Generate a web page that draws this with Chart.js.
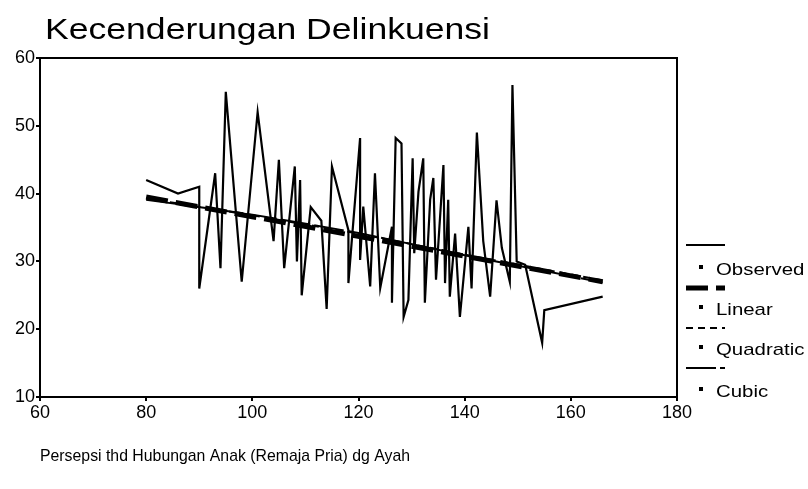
<!DOCTYPE html>
<html>
<head>
<meta charset="utf-8">
<script src="https://cdn.jsdelivr.net/npm/chart.js@4/dist/chart.umd.min.js"></script>
<style>
  html, body { margin: 0; padding: 0; background: #fff; }
</style>
</head>
<body>
<canvas id="trendChart" width="808" height="489"></canvas>
<script>
const obsX = [80, 86, 90, 90, 93, 94, 95, 98, 101, 104, 105, 106, 108, 108.4, 109, 109.3, 111, 113, 114, 115,
    118.1, 118.1, 118.7, 120.3, 120.3, 120.9, 122.2, 123.1, 124.1, 126.3, 126.3, 127, 128.1, 128.5, 129.4,
    130.2, 130.5, 131.3, 132.2, 132.5, 133.5, 134.1, 134.6, 136, 136.3, 136.9, 137.2, 138.2, 139.1, 140.7,
    141.3, 142.3, 143.5, 144.8, 146, 147, 148.5, 149, 149.8, 151.4, 154.6, 155, 166];
const obsY = [42, 40, 41, 26, 43, 29, 55, 27, 52, 33, 45, 29, 44, 30, 42, 25, 38, 36, 23, 44,
    34.6, 26.8, 32.7, 48.2, 30.2, 38.1, 26.3, 43, 26.1, 35.1, 23.9, 48.2, 47.4, 21.8, 24.3,
    45.2, 31.2, 40.3, 45.2, 23.9, 39.1, 42.3, 27.3, 44.2, 26.8, 39.1, 24.8, 34.1, 21.8, 35.1,
    26, 49, 33, 24.8, 39, 32, 27, 56, 30, 29.5, 18, 22.8, 24.8];

// Fitted curves
const linX = [80, 166];
const linY = [39.5, 27.0];
const quadX = [80, 100, 120, 140, 166];
const quadY = [39.3, 36.8, 34.1, 31.0, 27.2];
const cubX = [80, 100, 120, 140, 166];
const cubY = [39.1, 36.9, 34.2, 30.9, 26.9];

const xTicks = [60, 80, 100, 120, 140, 160, 180];
const yTicks = [10, 20, 30, 40, 50, 60];

const FONT = '"Liberation Sans", Arial, sans-serif';

function toPoints(xs, ys) {
    return xs.map((x, i) => ({ x: x, y: ys[i] }));
}

// Title, axis title, frame and legend
const decorPlugin = {
    id: 'decor',
    afterDraw(chart) {
        const ctx = chart.ctx;
        const area = chart.chartArea;
        ctx.save();

        ctx.strokeStyle = '#000';
        ctx.lineWidth = 2;
        ctx.strokeRect(area.left, area.top, area.right - area.left, area.bottom - area.top);

        ctx.fillStyle = '#000';
        ctx.textBaseline = 'alphabetic';
        drawFitted(ctx, 'Kecenderungan Delinkuensi', 45, 39, '30px ' + FONT, 445);
        drawFitted(ctx, 'Persepsi thd Hubungan Anak (Remaja Pria) dg Ayah', 40, 461, '17px ' + FONT, 370);

        // legend
        const items = [
            { label: 'Observed', width: 2, dash: [], lineY: 245, textY: 275 },
            { label: 'Linear', width: 5, dash: [22, 8], lineY: 288, textY: 315 },
            { label: 'Quadratic', width: 2, dash: [7, 5], lineY: 328, textY: 355 },
            { label: 'Cubic', width: 2, dash: [30, 4], lineY: 368, textY: 397 }
        ];
        ctx.font = '17px ' + FONT;
        items.forEach(item => {
            ctx.beginPath();
            ctx.setLineDash(item.dash);
            ctx.lineWidth = item.width;
            ctx.moveTo(686, item.lineY);
            ctx.lineTo(725, item.lineY);
            ctx.stroke();
            ctx.setLineDash([]);
            ctx.fillRect(699, item.textY - 10, 4, 4);
            const w = ctx.measureText(item.label).width;
            drawFitted(ctx, item.label, 716, item.textY, '17px ' + FONT, w * 1.2);
        });
        ctx.restore();
    }
};

function drawFitted(ctx, text, x, y, font, width) {
    ctx.font = font;
    const w = ctx.measureText(text).width;
    ctx.save();
    ctx.translate(x, y);
    ctx.scale(width / w, 1);
    ctx.fillText(text, 0, 0);
    ctx.restore();
}

function axisOptions(min, max, ticks) {
    return {
        type: 'linear',
        min: min,
        max: max,
        afterBuildTicks(scale) {
            scale.ticks = ticks.map(v => ({ value: v }));
        },
        ticks: {
            color: '#000',
            font: { family: FONT, size: 18 },
            padding: 1,
            maxRotation: 0,
            autoSkip: false
        },
        grid: {
            display: true,
            drawOnChartArea: false,
            drawTicks: true,
            tickLength: 4,
            color: '#000',
            lineWidth: 2
        },
        border: { display: true, color: '#000', width: 2 }
    };
}

const xAxis = axisOptions(60, 180, xTicks);
xAxis.afterFit = scale => { scale.height = 30; };
const yAxis = axisOptions(10, 60, yTicks);
yAxis.afterFit = scale => { scale.width = 40; };

const ctx = document.getElementById('trendChart').getContext('2d');
new Chart(ctx, {
    type: 'line',
    data: {
        datasets: [
            {
                label: 'Observed',
                data: toPoints(obsX, obsY),
                borderColor: '#000',
                borderWidth: 2.2,
                pointRadius: 0,
                order: 4
            },
            {
                label: 'Linear',
                data: toPoints(linX, linY),
                borderColor: '#000',
                borderWidth: 5,
                borderDash: [22, 8],
                pointRadius: 0,
                order: 1
            },
            {
                label: 'Quadratic',
                data: toPoints(quadX, quadY),
                borderColor: '#000',
                borderWidth: 2,
                borderDash: [7, 5],
                pointRadius: 0,
                order: 2
            },
            {
                label: 'Cubic',
                data: toPoints(cubX, cubY),
                borderColor: '#000',
                borderWidth: 2,
                borderDash: [30, 4],
                pointRadius: 0,
                order: 3
            }
        ]
    },
    options: {
        responsive: false,
        animation: false,
        devicePixelRatio: 1,
        layout: { padding: { left: 0, top: 58, right: 131, bottom: 62 } },
        plugins: {
            legend: { display: false },
            title: { display: false },
            tooltip: { enabled: false }
        },
        scales: { x: xAxis, y: yAxis }
    },
    plugins: [decorPlugin]
});
</script>
</body>
</html>
